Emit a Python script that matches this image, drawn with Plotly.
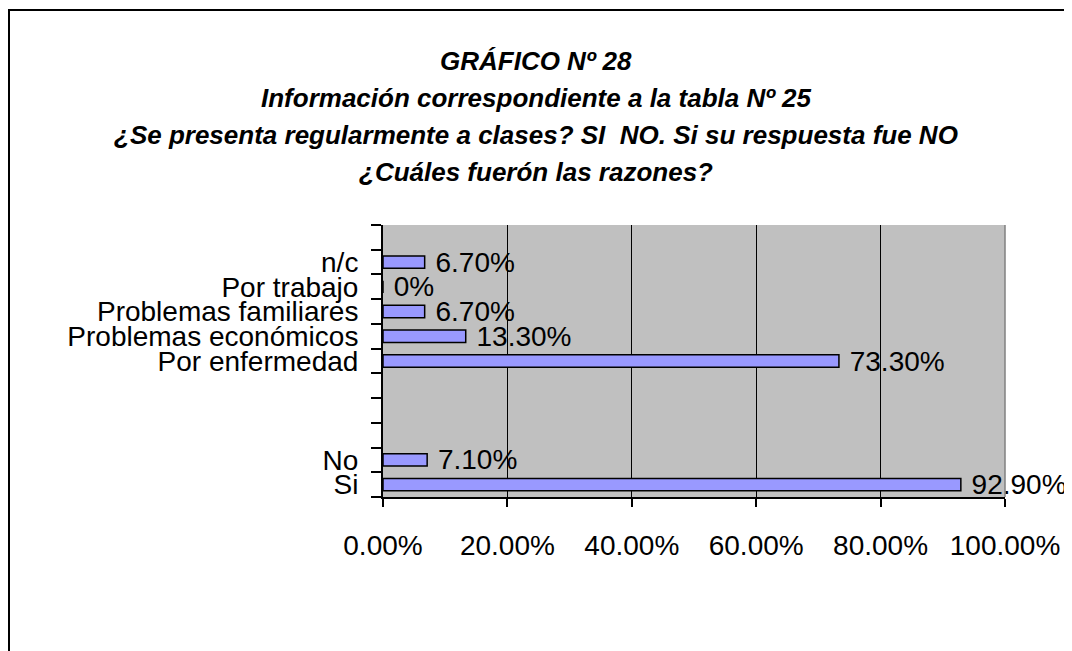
import plotly.graph_objects as go

# ---- data ----
categories = ["Si", "No", " ", "  ", "   ", "Por enfermedad", "Problemas económicos",
              "Problemas familiares", "Por trabajo", "n/c", "    "]
values = [0.929, 0.071, None, None, None, 0.733, 0.133, 0.067, 0.0, 0.067, None]
x_tick_vals = [0, 0.2, 0.4, 0.6, 0.8, 1.0]

title_lines = [
    "GRÁFICO Nº 28",
    "Información correspondiente a la tabla Nº 25",
    "¿Se presenta regularmente a clases? SI  NO. Si su respuesta fue NO",
    "¿Cuáles fuerón las razones?",
]

labels = ["" if v is None else (" 0%" if v == 0 else f" {v:.2%}") for v in values]

FONT = "Liberation Sans, Arial, sans-serif"

fig = go.Figure(go.Bar(
    x=values, y=categories, orientation="h",
    marker=dict(color="#9999FF", line=dict(color="black", width=1.5)),
    width=0.5,
    text=labels, textposition="outside", constraintext="none",
    textfont=dict(family=FONT, size=28, color="black"),
    cliponaxis=False,
))

OFF = 8  # page body margin
W, H = 1072 - OFF, 651 - OFF
L, T = 383 - OFF, 225 - OFF
R = W - (1005 - OFF)
B = H - (497 - OFF)
pw, ph = W - L - R, H - T - B

def px(xp):
    return (xp - OFF - L) / pw

def py(yp):
    return (H - B - (yp - OFF)) / ph

annotations = []
for i, line in enumerate(title_lines):
    annotations.append(dict(
        text=f"<b><i>{line}</i></b>", xref="paper", yref="paper",
        x=px(536), y=py(61 + 37 * i), xanchor="center", yanchor="middle",
        showarrow=False, font=dict(family=FONT, size=26, color="black"),
    ))

shapes = [
    dict(type="line", xref="paper", yref="paper", x0=px(9), x1=px(9), y0=py(10), y1=py(700),
         line=dict(color="black", width=2)),
    dict(type="line", xref="paper", yref="paper", x0=px(8), x1=px(1100), y0=py(10), y1=py(10),
         line=dict(color="black", width=2)),
    dict(type="line", xref="paper", yref="paper", x0=1, x1=1, y0=0, y1=1,
         line=dict(color="#808080", width=1.5)),
]

fig.update_layout(
    width=W, height=H,
    margin=dict(l=L, r=R, t=T, b=B, autoexpand=False),
    paper_bgcolor="white", plot_bgcolor="#C0C0C0",
    showlegend=False, bargap=0.5,
    font=dict(family=FONT, size=28, color="black"),
    annotations=annotations, shapes=shapes,
    xaxis=dict(range=[0, 1], tickvals=x_tick_vals, tickformat=".2%",
               showgrid=True, gridcolor="black", gridwidth=1,
               showline=True, linecolor="black", linewidth=2,
               ticks="outside", ticklen=8, tickcolor="black", tickwidth=1.5,
               ticklabelstandoff=14, zeroline=False,
               tickfont=dict(family=FONT, size=28, color="black")),
    yaxis=dict(type="category", categoryorder="array", categoryarray=categories,
               range=[-0.5, len(categories) - 0.5],
               tickmode="linear", tick0=0, dtick=1, tickson="boundaries",
               showgrid=False, showline=True, linecolor="black", linewidth=2,
               ticks="outside", ticklen=10, tickcolor="black", tickwidth=1.5,
               ticklabelstandoff=17,
               tickfont=dict(family=FONT, size=28, color="black")),
)

fig.write_html("out.html")
